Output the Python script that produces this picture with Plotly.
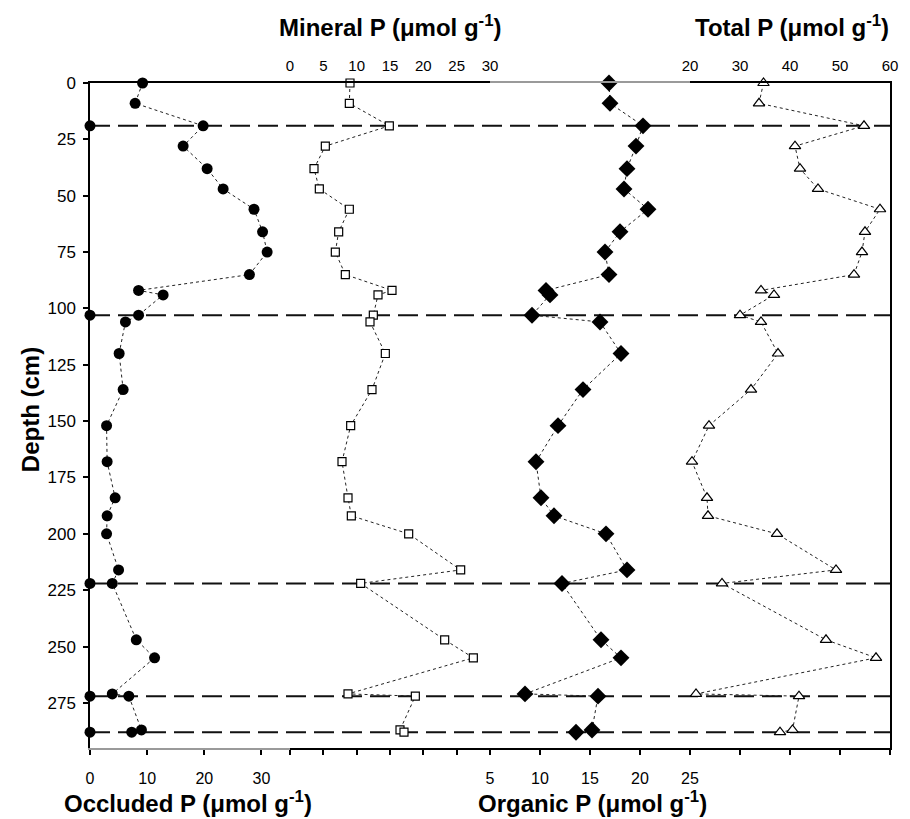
import plotly.graph_objects as go

# ---------------- data ----------------
depth = [0, 9, 19, 28, 38, 47, 56, 66, 75, 85, 92, 94, 103, 106, 120, 136,
         152, 168, 184, 192, 200, 216, 222, 247, 255, 271, 272, 287, 288]
occluded = [9.2, 7.9, 19.8, 16.3, 20.5, 23.3, 28.7, 30.2, 31.0, 27.9, 8.5, 12.8,
            8.5, 6.2, 5.1, 5.8, 2.9, 3.0, 4.4, 3.0, 2.9, 5.0, 3.9, 8.1, 11.3,
            3.9, 6.8, 9.0, 7.3]
mineral = [9.0, 8.9, 14.9, 5.3, 3.6, 4.4, 8.9, 7.3, 6.8, 8.3, 15.3, 13.2, 12.5,
           12.0, 14.3, 12.3, 9.1, 7.8, 8.7, 9.2, 17.8, 25.6, 10.6, 23.2, 27.5,
           8.7, 18.8, 16.5, 17.1]
organic = [16.9, 17.0, 20.3, 19.6, 18.7, 18.4, 20.8, 18.0, 16.5, 16.9, 10.6, 11.0,
           9.2, 16.0, 18.1, 14.3, 11.8, 9.6, 10.1, 11.4, 16.6, 18.7, 12.2, 16.1,
           18.1, 8.5, 15.8, 15.2, 13.6]
total = [34.7, 33.8, 54.8, 41.0, 42.0, 45.6, 58.0, 55.0, 54.4, 52.8, 34.2, 36.8,
         30.0, 34.2, 37.6, 32.2, 23.8, 20.4, 23.4, 23.6, 37.4, 49.2, 26.4, 47.2,
         57.2, 21.2, 41.8, 40.5, 38.0]
boundaries = [19, 103, 222, 272, 288]
boundary_occ = [0, 0, 0, 0, 0]

occ_ticks = [0, 10, 20, 30]
min_ticks = [0, 5, 10, 15, 20, 25, 30]
org_ticks = [5, 10, 15, 20, 25]
tot_ticks = [20, 30, 40, 50, 60]
depth_ticks = [0, 25, 50, 75, 100, 125, 150, 175, 200, 225, 250, 275]

# ---------------- styling ----------------
FONT = "Liberation Sans, Arial, sans-serif"
GRAY = "#9a9a9a"
LINE = dict(color="#222", width=1, dash="dot")

fig = go.Figure()

fig.add_trace(go.Scatter(x=occluded, y=depth, xaxis="x", yaxis="y", mode="lines+markers",
                         line=LINE, marker=dict(symbol="circle", size=11, color="black"),
                         cliponaxis=False, showlegend=False))
fig.add_trace(go.Scatter(x=boundary_occ, y=boundaries, xaxis="x", yaxis="y", mode="markers",
                         marker=dict(symbol="circle", size=11, color="black"),
                         cliponaxis=False, showlegend=False))
fig.add_trace(go.Scatter(x=mineral, y=depth, xaxis="x2", yaxis="y", mode="lines+markers",
                         line=LINE, marker=dict(symbol="square", size=8, color="white",
                                                line=dict(color="black", width=1.2)),
                         cliponaxis=False, showlegend=False))
fig.add_trace(go.Scatter(x=organic, y=depth, xaxis="x3", yaxis="y", mode="lines+markers",
                         line=LINE, marker=dict(symbol="diamond", size=13, color="black"),
                         cliponaxis=False, showlegend=False))
fig.add_trace(go.Scatter(x=total, y=depth, xaxis="x4", yaxis="y", mode="lines+markers",
                         line=LINE, marker=dict(symbol="triangle-up", size=10, color="white",
                                                line=dict(color="black", width=1.2)),
                         cliponaxis=False, showlegend=False))

# invisible helper traces so the auxiliary (frame / tick) axes are drawn
for xa, ya, xv in [("x5", "y", min_ticks[0]), ("x6", "y", tot_ticks[0]),
                   ("x7", "y", occ_ticks[0]), ("x8", "y", org_ticks[0]),
                   ("x4", "y2", tot_ticks[0])]:
    fig.add_trace(go.Scatter(x=[xv], y=[depth[0]], xaxis=xa, yaxis=ya, mode="markers",
                             marker=dict(opacity=0, size=1), hoverinfo="skip",
                             showlegend=False))

for b in boundaries:
    fig.add_shape(type="line", xref="paper", yref="y", x0=0, x1=1, y0=b, y1=b,
                  line=dict(color="#111", width=2, dash="20px,8px"), layer="below")

tickfont = dict(family=FONT, size=16, color="black")
ytickfont = dict(family=FONT, size=17, color="black")
topfont = dict(family=FONT, size=15, color="black")

common = dict(anchor="y", showgrid=False, zeroline=False, linewidth=1.5)

fig.update_layout(
    width=902, height=811,
    margin=dict(l=82, r=20, t=75, b=71),
    paper_bgcolor="white", plot_bgcolor="white",
    xaxis=dict(domain=[0, 0.25], range=[0, 35], side="bottom", showline=True,
               linecolor=GRAY, tickvals=occ_ticks, ticks="outside", ticklen=5,
               tickcolor="black", tickwidth=1.5, tickfont=tickfont,
               ticklabelstandoff=10, **common),
    xaxis2=dict(domain=[0.25, 0.5], range=[0, 30], side="top", showline=True,
                linecolor="black", tickvals=min_ticks, ticks="",
                tickfont=topfont, ticklabelstandoff=4, **common),
    xaxis3=dict(domain=[0.5, 0.75], range=[5, 25], side="bottom", showline=True,
                linecolor="black", tickvals=org_ticks, ticks="outside", ticklen=5,
                tickcolor="black", tickwidth=1.5, tickfont=tickfont,
                ticklabelstandoff=10, **common),
    xaxis4=dict(domain=[0.75, 1.0], range=[20, 60], side="top", showline=True,
                linecolor="black", tickvals=tot_ticks, ticks="",
                tickfont=topfont, ticklabelstandoff=4, **common),
    xaxis5=dict(overlaying="x2", range=[0, 30], side="bottom", showline=True,
                linecolor="black", tickvals=min_ticks, ticks="outside", ticklen=5,
                tickcolor="black", tickwidth=1.5, showticklabels=False, **common),
    xaxis6=dict(overlaying="x4", range=[20, 60], side="bottom", showline=True,
                linecolor="black", tickvals=tot_ticks, ticks="outside", ticklen=5,
                tickcolor="black", tickwidth=1.5, showticklabels=False, **common),
    xaxis7=dict(overlaying="x", range=[0, 35], side="top", showline=True,
                linecolor="black", ticks="", showticklabels=False, **common),
    xaxis8=dict(overlaying="x3", range=[5, 25], side="top", showline=True,
                linecolor=GRAY, ticks="", showticklabels=False, **common),
    yaxis=dict(range=[295, 0], showline=True, linecolor="black", linewidth=1.5,
               tickvals=depth_ticks, ticks="outside", ticklen=5,
               tickcolor="black", tickwidth=1.5, tickfont=ytickfont,
               ticklabelstandoff=4, showgrid=False, zeroline=False),
    yaxis2=dict(range=[295, 0], overlaying="y", side="right", anchor="x4",
                showline=True, linecolor="black", linewidth=1.5, ticks="",
                showticklabels=False, showgrid=False, zeroline=False),
)

# axis titles
title_font = dict(family=FONT, size=24, color="black")
titles = [
    ("<b>Occluded P (μmol g<sup>-1</sup>)</b>", 0.1225, -0.0815, 0),
    ("<b>Organic P (μmol g<sup>-1</sup>)</b>", 0.6275, -0.0815, 0),
    ("<b>Mineral P (μmol g<sup>-1</sup>)</b>", 0.376, 1.0857, 0),
    ("<b>Total P (μmol g<sup>-1</sup>)</b>", 0.8775, 1.0857, 0),
    ("<b>Depth (cm)</b>", -0.075, 0.508, -90),
]
for text, x, y, ang in titles:
    fig.add_annotation(text=text, xref="paper", yref="paper", x=x, y=y,
                       xanchor="center", yanchor="middle", showarrow=False,
                       textangle=ang, font=title_font)

fig.write_html("out.html")
